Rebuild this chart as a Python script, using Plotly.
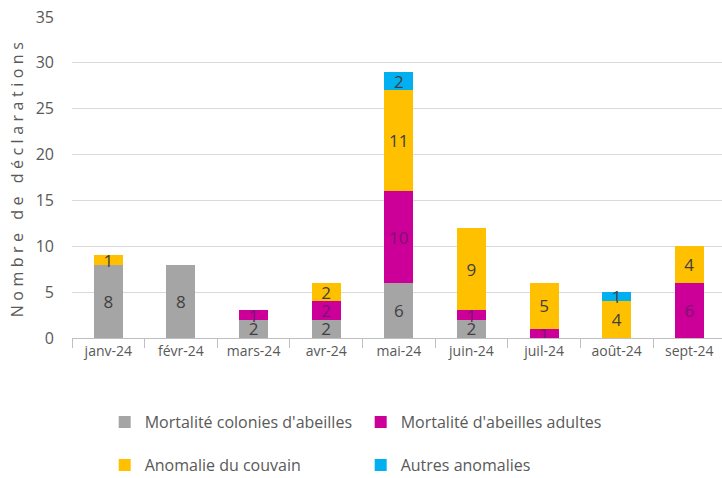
import plotly.graph_objects as go

months = ["janv-24", "févr-24", "mars-24", "avr-24", "mai-24", "juin-24", "juil-24", "août-24", "sept-24"]
mort_colonies = [8, 8, 2, 2, 6, 2, 0, 0, 0]
mort_adultes = [0, 0, 1, 2, 10, 1, 1, 0, 6]
anomalie_couvain = [1, 0, 0, 2, 11, 9, 5, 4, 4]
autres = [0, 0, 0, 0, 2, 0, 0, 1, 0]
y_ticks = [0, 5, 10, 15, 20, 25, 30, 35]

series = [
    ("Mortalité colonies d'abeilles", mort_colonies, "#A5A5A5", "#404040", "legend"),
    ("Mortalité d'abeilles adultes", mort_adultes, "#CC0099", "#7A1470", "legend"),
    ("Anomalie du couvain", anomalie_couvain, "#FFC000", "#404040", "legend2"),
    ("Autres anomalies", autres, "#00B0F0", "#404040", "legend2"),
]

fig = go.Figure()
for name, vals, color, tcolor, lg in series:
    fig.add_trace(go.Bar(
        x=months, y=vals, name=name, marker_color=color, marker_line_width=0,
        text=[str(v) if v else "" for v in vals], textposition="inside",
        insidetextanchor="middle", textangle=0, constraintext="none",
        textfont=dict(family="Open Sans", size=17, color=tcolor),
        width=0.4, legend=lg,
    ))

font_fam = "Open Sans"
leg_common = dict(
    orientation="h", xref="container", yref="container", x=0.145,
    xanchor="left", yanchor="middle", entrywidth=211, entrywidthmode="pixels",
    font=dict(family=font_fam, size=16, color="#595959"), bgcolor="rgba(0,0,0,0)",
    itemclick=False, itemdoubleclick=False, traceorder="normal",
)
fig.update_layout(
    barmode="stack",
    width=722, height=478,
    margin=dict(l=72, r=0, t=17, b=140, autoexpand=False),
    paper_bgcolor="white", plot_bgcolor="white",
    uniformtext=dict(mode="show", minsize=17),
    font=dict(family=font_fam, color="#595959"),
    xaxis=dict(
        range=[-0.5, 8.45], showgrid=False, showline=True, linecolor="#BFBFBF", linewidth=1,
        ticks="outside", tickson="boundaries", ticklen=9, tickcolor="#BFBFBF",
        tickfont=dict(family=font_fam, size=14, color="#595959"), automargin=False,
    ),
    yaxis=dict(
        range=[0, 35], tickvals=y_ticks, showgrid=True, gridcolor="#D9D9D9", gridwidth=1,
        zeroline=False, showline=False, ticks="", automargin=False,
        tickfont=dict(family=font_fam, size=16, color="#595959"), ticklabelstandoff=17,
        title=dict(text='<span style="letter-spacing:4.5px">Nombre de déclarations</span>',
                   font=dict(family="Open Sans", size=16, color="#595959"), standoff=8),
    ),
    legend=dict(leg_common, y=0.117),
    legend2=dict(leg_common, y=0.027),
    showlegend=True,
)

fig.write_html("out.html", config={"displayModeBar": False},
               post_script="document.body.style.margin='0px';")
